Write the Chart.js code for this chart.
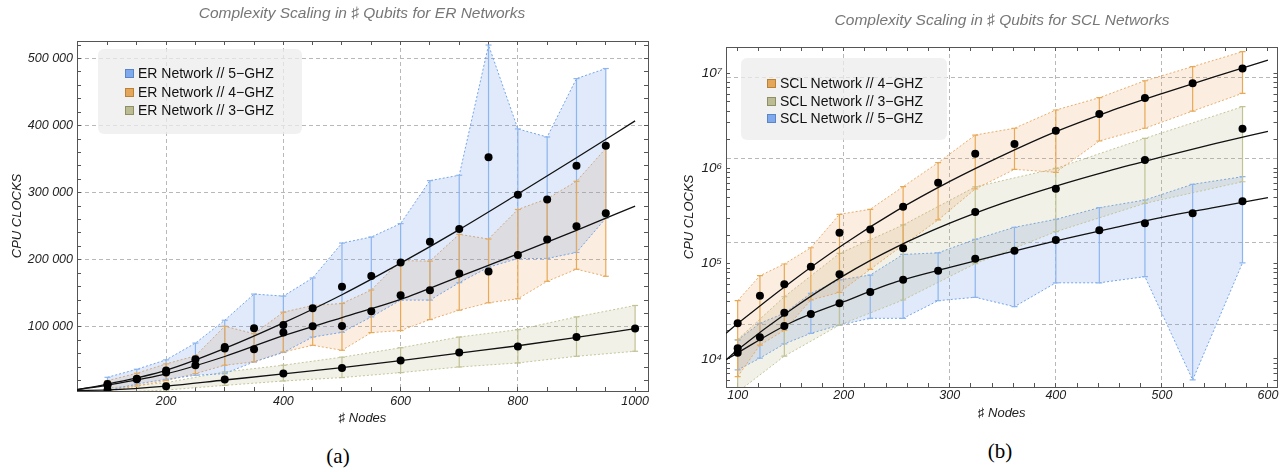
<!DOCTYPE html>
<html>
<head>
<meta charset="utf-8">
<script src="https://cdn.jsdelivr.net/npm/chart.js@4.4.0/dist/chart.umd.min.js"></script>
<style>
  body { margin:0; background:#fff; width:1284px; height:472px; position:relative; overflow:hidden;
         font-family:"Liberation Sans", Arial, sans-serif; }
  canvas { position:absolute; top:0; }
  #chartA { left:0; }
  #chartB { left:660px; }
  .title { position:absolute; color:#777; font-style:italic; font-size:15.5px; white-space:nowrap;
           transform:translate(-50%,-50%); }
  .caption { position:absolute; font-family:"Liberation Serif", serif; font-size:21px; transform:translate(-50%,-50%); }
  .legend { position:absolute; background:rgba(236,236,236,0.75); border-radius:6px; }
  .legend-item { position:absolute; font-size:14px; line-height:16px; white-space:nowrap; color:#111; }
  .legend-color { display:inline-block; width:7px; height:7px; border:1px solid; margin-right:4px; vertical-align:0px; }
</style>
</head>
<body>
<canvas id="chartA" width="660" height="430"></canvas>
<canvas id="chartB" width="624" height="430"></canvas>
<div class="title" style="left:362px; top:13px;">Complexity Scaling in ♯ Qubits for ER Networks</div>
<div class="title" style="left:1002px; top:20px;">Complexity Scaling in ♯ Qubits for SCL Networks</div>
<div class="legend" id="legendA" style="left:98px; top:49px; width:204px; height:85px;"></div>
<div class="legend" id="legendB" style="left:741px; top:58px; width:206px; height:82px;"></div>
<div class="caption" style="left:338px; top:456px;">(a)</div>
<div class="caption" style="left:1000px; top:451px;">(b)</div>
<script>
// ---------- panel (a): ER networks ----------
const erX = [100, 150, 200, 250, 300, 350, 400, 450, 500, 550, 600, 650, 700, 750, 800, 850, 900, 950];
const er5   = [15000, 23000, 35000, 52000, 70000, 98000, 103000, 128000, 160000, 176000, 196000, 227000, 246000, 353000, 297000, 290000, 340000, 370000];
const er5Hi = [25000, 37000, 51000, 76000, 110000, 149000, 146000, 173000, 225000, 234000, 254000, 318000, 326000, 520000, 395000, 383000, 470000, 485000];
const er5Lo = [5000, 15000, 22000, 28000, 30500, 48000, 62000, 85000, 92000, 115000, 140000, 140000, 166000, 189000, 202000, 202000, 211000, 262000];
const er4   = [13000, 22000, 32000, 43000, 68000, 66700, 91600, 101000, 101500, 123400, 147200, 154700, 179500, 182500, 207300, 230200, 250100, 269400];
const er4Hi = [20000, 31000, 45000, 57000, 101000, 90000, 122000, 132000, 135000, 155000, 199000, 198000, 238000, 231000, 275000, 291000, 317000, 366000];
const er4Lo = [4000, 12000, 20000, 30500, 43000, 48000, 62700, 72700, 65300, 91600, 94600, 111000, 125000, 136000, 142000, 168000, 186000, 175500];
const er3X  = [100, 200, 300, 400, 500, 600, 700, 800, 900, 1000];
const er3   = [5700, 11600, 21600, 30500, 38900, 49900, 61800, 70800, 85100, 97600];
const er3Hi = [9000, 17000, 33000, 43000, 55000, 69000, 85000, 96000, 115000, 132000];
const er3Lo = [2000, 6000, 13000, 19500, 24600, 32000, 40400, 46400, 56300, 63800];
const erFitX = [48, 100, 200, 300, 400, 500, 600, 700, 800, 900, 1000];
const erFit5 = [6700, 15000, 35500, 68000, 106000, 148000, 195000, 245000, 298000, 352000, 407000];
const erFit4 = [6500, 13500, 30000, 56000, 87000, 114000, 141000, 175000, 209000, 244000, 280000];
const erFit3 = [5500, 6200, 12000, 21000, 30000, 39500, 50000, 61000, 72000, 84500, 97600];
const erXTicks = [200, 400, 600, 800, 1000];
const erXGrid = [200, 400, 600, 800];
const erYTicks = [100000, 200000, 300000, 400000, 500000];
const erYLabels = ['100 000', '200 000', '300 000', '400 000', '500 000'];
const erLegend = ['ER Network // 5−GHZ', 'ER Network // 4−GHZ', 'ER Network // 3−GHZ'];

// ---------- panel (b): SCL networks ----------
const sclX = [100, 121, 144, 169, 196, 225, 256, 289, 324, 361, 400, 441, 484, 529, 576];
const scl4   = [23700, 46200, 60800, 93100, 211000, 229000, 396000, 708000, 1425000, 1800000, 2490000, 3720000, 5480000, 7820000, 11200000];
const scl4Hi = [40900, 74800, 99300, 147000, 330000, 372000, 643000, 1148000, 2240000, 2640000, 4100000, 5520000, 8320000, 11700000, 16800000];
const scl4Lo = [6520, 14000, 20000, 41600, 50000, 87300, 157000, 288000, 608000, 977000, 910000, 1940000, 2640000, 4000000, 6140000];
const scl5   = [11600, 16900, 22200, 29700, 38400, 50500, 67900, 84500, 113000, 137000, 177000, 224000, 265000, 338000, 452000];
const scl5Hi = [15800, 23700, 30200, 48800, 67500, 76000, 125000, 130000, 180000, 241000, 292000, 387000, 466000, 681000, 818000];
const scl5Lo = [7680, 10200, 14400, 18600, 22700, 26700, 26700, 40900, 44400, 35400, 63000, 63000, 73100, 6020, 102000];
const scl3X  = [100, 144, 196, 256, 324, 400, 484, 576];
const scl3   = [12950, 30600, 77400, 145000, 349000, 612000, 1225000, 2610000];
const scl3Hi = [16000, 45000, 128000, 255000, 640000, 1000000, 2070000, 4440000];
const scl3Lo = [4500, 10700, 22700, 41600, 100000, 217000, 430000, 724000];
const sclFitX = [89, 100, 150, 200, 250, 300, 350, 400, 450, 500, 550, 600];
const sclFit4 = [18600, 23500, 64000, 160000, 360000, 730000, 1370000, 2430000, 3950000, 6100000, 9200000, 13700000];
const sclFit3 = [9800, 12500, 32700, 75000, 150000, 266000, 432000, 653000, 944000, 1320000, 1820000, 2450000];
const sclFit5 = [9800, 11600, 24000, 39900, 64700, 91600, 127000, 174000, 232000, 307000, 390000, 493000];
const sclXTicks = [100, 200, 300, 400, 500, 600];
const sclXGrid = [200, 300, 400, 500];
const sclYTicks = [1e4, 1e5, 1e6, 1e7];
const sclYLabels = ['10⁴', '10⁵', '10⁶', '10⁷'];
const sclYGrid = [22800, 168000, 1260000, 9100000];
const sclLegend = ['SCL Network // 4−GHZ', 'SCL Network // 3−GHZ', 'SCL Network // 5−GHZ'];

const BLUE   = { line: 'rgba(110,160,235,0.95)', bar: '#8db5ef', fill: 'rgba(100,150,230,0.2)',  swatch: '#7fa9ec', edge: '#5a86c8' };
const ORANGE = { line: 'rgba(232,170,100,0.95)', bar: '#e8a957', fill: 'rgba(230,150,70,0.17)',  swatch: '#e3a65a', edge: '#b98236' };
const OLIVE  = { line: 'rgba(195,195,150,0.95)', bar: '#c2c294', fill: 'rgba(170,170,120,0.17)', swatch: '#bcbc94', edge: '#8f8f66' };

const tickFont = { family: 'Liberation Sans', style: 'italic', size: 12.5 };
const titleFont = { family: 'Liberation Sans', style: 'italic', size: 13 };
const FRAME = '#555';

function pts(xs, ys) { return xs.map((x, i) => ({ x: x, y: ys[i] })); }

function errPts(xs, lo, hi) {
  const out = [];
  xs.forEach((x, i) => { out.push({ x: x, y: lo[i] }, { x: x, y: hi[i] }, { x: x, y: null }); });
  return out;
}

// upper + lower dotted edges, the lower one filled up to the upper one
function band(xs, lo, hi, c) {
  return [
    { data: pts(xs, hi), borderColor: c.line, borderWidth: 1, borderDash: [2, 2], pointRadius: 0, fill: false, order: 5 },
    { data: pts(xs, lo), borderColor: c.line, borderWidth: 1, borderDash: [2, 2], pointRadius: 0, fill: '-1', backgroundColor: c.fill, order: 5 }
  ];
}

function errorBars(xs, lo, hi, c) {
  return { data: errPts(xs, lo, hi), borderColor: c.bar, borderWidth: 1.2, spanGaps: false,
           pointStyle: 'line', pointRadius: 3, pointBorderColor: c.bar, pointBorderWidth: 1.2, fill: false, order: 3 };
}

function fit(xs, ys) {
  return { data: pts(xs, ys), borderColor: '#111', borderWidth: 1.3, pointRadius: 0,
           cubicInterpolationMode: 'monotone', fill: false, order: 1 };
}

function dots(xs, ys) {
  return { data: pts(xs, ys), showLine: false, pointRadius: 4, pointBackgroundColor: '#000',
           pointBorderWidth: 0, fill: false, order: 0 };
}

function setTicks(list) { return s => { s.ticks = list.map(v => ({ value: v })); }; }
function gridColor(list) { return ctx => (ctx.tick && list.includes(ctx.tick.value)) ? '#b8b8b8' : 'rgba(0,0,0,0)'; }
function labelFrom(values, labels) { return v => { const i = values.indexOf(v); return i >= 0 ? labels[i] : ''; }; }

function frameAxis(pos, type, min, max, all, hidden) {
  return {
    type: type, position: pos, min: min, max: max, bounds: 'data',
    afterBuildTicks: setTicks(all),
    afterFit: s => { if (pos === 'top') s.height = 0; else s.width = 0; },
    ticks: { display: false, autoSkip: false },
    grid: { drawOnChartArea: false, tickLength: -4,
            tickColor: ctx => (hidden && ctx.tick && hidden.includes(ctx.tick.value)) ? 'rgba(0,0,0,0)' : FRAME },
    border: { color: FRAME, width: 1 }
  };
}

// minor tick positions
const erXAll = []; for (let v = 100; v <= 1000; v += 50) erXAll.push(v);
const erYAll = []; for (let v = 20000; v <= 520000; v += 20000) erYAll.push(v);
const sclXAll = []; for (let v = 100; v <= 600; v += 20) sclXAll.push(v);
const sclYAll = [];
for (let e = 3; e <= 7; e++) for (let m = 1; m <= 9; m++) {
  const v = m * Math.pow(10, e);
  if (v >= 5080 && v <= 18800000) sclYAll.push(v);
}
const sclYWithGrid = sclYAll.concat(sclYGrid);

const common = {
  responsive: false, animation: false, events: [],
  plugins: { legend: { display: false }, tooltip: { enabled: false } },
  elements: { line: { tension: 0 } }
};

new Chart(document.getElementById('chartA'), {
  type: 'line',
  data: {
    datasets: [
      ...band(erX, er5Lo, er5Hi, BLUE),
      ...band(erX, er4Lo, er4Hi, ORANGE),
      ...band(er3X, er3Lo, er3Hi, OLIVE),
      errorBars(erX, er4Lo, er4Hi, ORANGE),
      errorBars(er3X, er3Lo, er3Hi, OLIVE),
      errorBars(erX, er5Lo, er5Hi, BLUE),
      fit(erFitX, erFit5), fit(erFitX, erFit4), fit(erFitX, erFit3),
      dots(erX, er5), dots(erX, er4), dots(er3X, er3)
    ]
  },
  options: {
    ...common,
    layout: { padding: { left: 0, right: 12, top: 41, bottom: 0 } },
    scales: {
      x: {
        type: 'linear', position: 'bottom', min: 48, max: 1022, bounds: 'data',
        afterBuildTicks: setTicks(erXAll),
        afterFit: s => { s.height = 39; },
        ticks: { autoSkip: false, maxRotation: 0, padding: 7, color: '#222', font: tickFont,
                 callback: v => erXTicks.includes(v) ? String(v) : '' },
        grid: { color: gridColor(erXGrid), tickLength: -4, tickColor: FRAME },
        border: { color: FRAME, width: 1, dash: [4, 3] },
        title: { display: true, text: '♯ Nodes', color: '#222', font: titleFont, padding: { top: 0, bottom: 4 } }
      },
      y: {
        type: 'linear', position: 'left', min: 4600, max: 526000, bounds: 'data',
        afterBuildTicks: setTicks(erYAll),
        afterFit: s => { s.width = 77; },
        ticks: { autoSkip: false, padding: 8, color: '#222', font: tickFont, callback: labelFrom(erYTicks, erYLabels) },
        grid: { color: gridColor(erYTicks), tickLength: -4, tickColor: FRAME },
        border: { color: FRAME, width: 1, dash: [4, 3] },
        title: { display: true, text: 'CPU CLOCKS', color: '#222', font: titleFont, padding: { top: 10, bottom: 0 } }
      },
      x2: frameAxis('top', 'linear', 48, 1022, erXAll),
      y2: frameAxis('right', 'linear', 4600, 526000, erYAll)
    }
  }
});

new Chart(document.getElementById('chartB'), {
  type: 'line',
  data: {
    datasets: [
      ...band(sclX, scl4Lo, scl4Hi, ORANGE),
      ...band(scl3X, scl3Lo, scl3Hi, OLIVE),
      ...band(sclX, scl5Lo, scl5Hi, BLUE),
      errorBars(sclX, scl4Lo, scl4Hi, ORANGE),
      errorBars(scl3X, scl3Lo, scl3Hi, OLIVE),
      errorBars(sclX, scl5Lo, scl5Hi, BLUE),
      fit(sclFitX, sclFit4), fit(sclFitX, sclFit3), fit(sclFitX, sclFit5),
      dots(sclX, scl4), dots(scl3X, scl3), dots(sclX, scl5)
    ]
  },
  options: {
    ...common,
    layout: { padding: { left: 0, right: 5, top: 47, bottom: 0 } },
    scales: {
      x: {
        type: 'linear', position: 'bottom', min: 89, max: 609, bounds: 'data',
        afterBuildTicks: setTicks(sclXAll),
        afterFit: s => { s.height = 43; },
        ticks: { autoSkip: false, maxRotation: 0, padding: 5.5, color: '#222', font: tickFont,
                 callback: v => sclXTicks.includes(v) ? String(v) : '' },
        grid: { color: gridColor(sclXGrid), tickLength: -4, tickColor: FRAME },
        border: { color: FRAME, width: 1, dash: [4, 3] },
        title: { display: true, text: '♯ Nodes', color: '#222', font: titleFont, padding: { top: 0, bottom: 9 } }
      },
      y: {
        type: 'logarithmic', position: 'left', min: 5080, max: 18800000, bounds: 'data',
        afterBuildTicks: setTicks(sclYWithGrid),
        afterFit: s => { s.width = 66; },
        ticks: { autoSkip: false, padding: 8, color: '#222', font: { ...tickFont, size: 13.5 },
                 callback: labelFrom(sclYTicks, sclYLabels) },
        grid: { color: gridColor(sclYGrid), tickLength: -4,
                tickColor: ctx => (ctx.tick && sclYGrid.includes(ctx.tick.value)) ? 'rgba(0,0,0,0)' : FRAME },
        border: { color: FRAME, width: 1, dash: [4, 3] },
        title: { display: true, text: 'CPU CLOCKS', color: '#222', font: titleFont, padding: { top: 22, bottom: 0 } }
      },
      x2: frameAxis('top', 'linear', 89, 609, sclXAll),
      y2: frameAxis('right', 'logarithmic', 5080, 18800000, sclYAll)
    }
  }
});

// custom legends
function buildLegend(id, labels, colors, left, tops) {
  const box = document.getElementById(id);
  labels.forEach((label, i) => {
    const item = document.createElement('div');
    item.className = 'legend-item';
    item.style.left = left + 'px';
    item.style.top = tops[i] + 'px';
    item.innerHTML = '<span class="legend-color" style="background:' + colors[i].swatch +
                     ';border-color:' + colors[i].edge + '"></span>' + label;
    box.appendChild(item);
  });
}
buildLegend('legendA', erLegend, [BLUE, ORANGE, OLIVE], 27, [16, 34.5, 53]);
buildLegend('legendB', sclLegend, [ORANGE, OLIVE, BLUE], 26, [17, 34.5, 52]);
</script>
</body>
</html>
